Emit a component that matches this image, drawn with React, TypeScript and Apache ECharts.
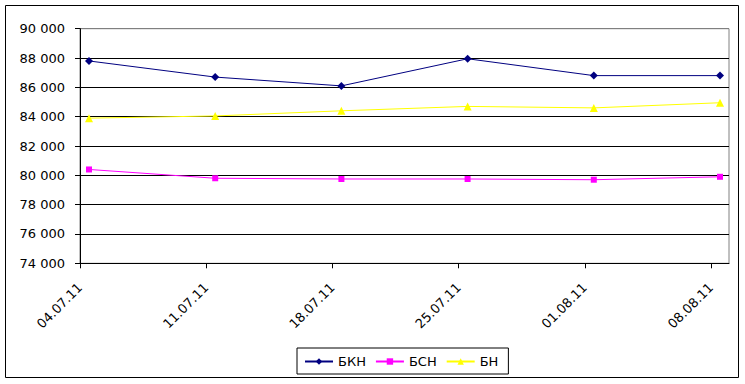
import React, { useEffect, useRef } from "react";
import * as echarts from "echarts";

const tickLabels = ["04.07.11", "11.07.11", "18.07.11", "25.07.11", "01.08.11", "08.08.11"];
// day offsets (from 04.07.11) of each observation; points sit mid-day
const dayOffsets = [0, 7, 14, 21, 28, 35];
const bkn = [87800, 86700, 86100, 87950, 86800, 86800];
const bsn = [80400, 79800, 79750, 79750, 79700, 79900];
const bn = [83900, 84050, 84400, 84700, 84600, 84950];

const toPairs = (vals: number[]) => vals.map((v, i) => [dayOffsets[i] + 0.5, v]);

const fmt = (v: number) => {
  const s = Math.round(v).toString();
  return s.replace(/\B(?=(\d{3})+(?!\d))/g, " ");
};

export default function App() {
  const ref = useRef<HTMLDivElement>(null);
  useEffect(() => {
    if (!ref.current) return;
    const chart = echarts.init(ref.current, undefined, { renderer: "svg" });
    const font = "'DejaVu Sans', 'Liberation Sans', Arial, sans-serif";
    chart.setOption({
      animation: false,
      backgroundColor: "#fff",
      textStyle: { fontFamily: font },
      graphic: [
        {
          type: "rect",
          shape: { x: 5.5, y: 5.5, width: 733, height: 372 },
          style: { fill: "none", stroke: "#000", lineWidth: 1 },
          silent: true,
          z: 100,
        },
      ],
      grid: {
        left: 80,
        right: 16,
        top: 28.7,
        bottom: 120.7,
        show: true,
        borderColor: "#808080",
        borderWidth: 1,
      },
      xAxis: {
        type: "value",
        min: 0,
        max: 36,
        interval: 7,
        axisLine: { show: true, lineStyle: { color: "#000" } },
        axisTick: { show: true, length: 5, lineStyle: { color: "#000" } },
        splitLine: { show: false },
        axisLabel: {
          rotate: 45,
          color: "#000",
          fontSize: 13,
          fontFamily: font,
          margin: 22,
          showMaxLabel: false,
          formatter: (v: number) => {
            const i = Math.round(v / 7);
            return v % 7 === 0 && tickLabels[i] ? tickLabels[i] : "";
          },
        },
      },
      yAxis: {
        type: "value",
        min: 74000,
        max: 90000,
        interval: 2000,
        axisLine: { show: true, lineStyle: { color: "#000" } },
        axisTick: { show: true, length: 5, lineStyle: { color: "#000" } },
        axisLabel: { color: "#000", fontSize: 13, fontFamily: font, margin: 15, formatter: fmt },
        splitLine: {
          show: true,
          lineStyle: {
            color: ["#000", "#000", "#000", "#000", "#000", "#000", "#000", "#000", "#808080"],
            width: 1,
          },
        },
      },
      legend: {
        left: 297,
        top: 348,
        padding: [7, 10, 6, 7],
        borderColor: "#000",
        borderWidth: 1,
        itemWidth: 28,
        itemHeight: 8,
        itemGap: 9,
        textStyle: { fontSize: 13, color: "#000", fontFamily: font },
        data: ["БКН", "БСН", "БН"],
      },
      series: [
        {
          name: "БКН",
          type: "line",
          data: toPairs(bkn),
          symbol: "diamond",
          symbolSize: 8,
          lineStyle: { color: "#000080", width: 1 },
          itemStyle: { color: "#000080" },
        },
        {
          name: "БСН",
          type: "line",
          data: toPairs(bsn),
          symbol: "rect",
          symbolSize: 6,
          lineStyle: { color: "#FF00FF", width: 1 },
          itemStyle: { color: "#FF00FF" },
        },
        {
          name: "БН",
          type: "line",
          data: toPairs(bn),
          symbol: "triangle",
          symbolSize: 8,
          lineStyle: { color: "#FFFF00", width: 1 },
          itemStyle: { color: "#FFFF00" },
        },
      ],
    });
    return () => chart.dispose();
  }, []);
  return (
    <div
      ref={ref}
      style={{ position: "fixed", left: 0, top: 0, width: 745, height: 384 }}
    />
  );
}
